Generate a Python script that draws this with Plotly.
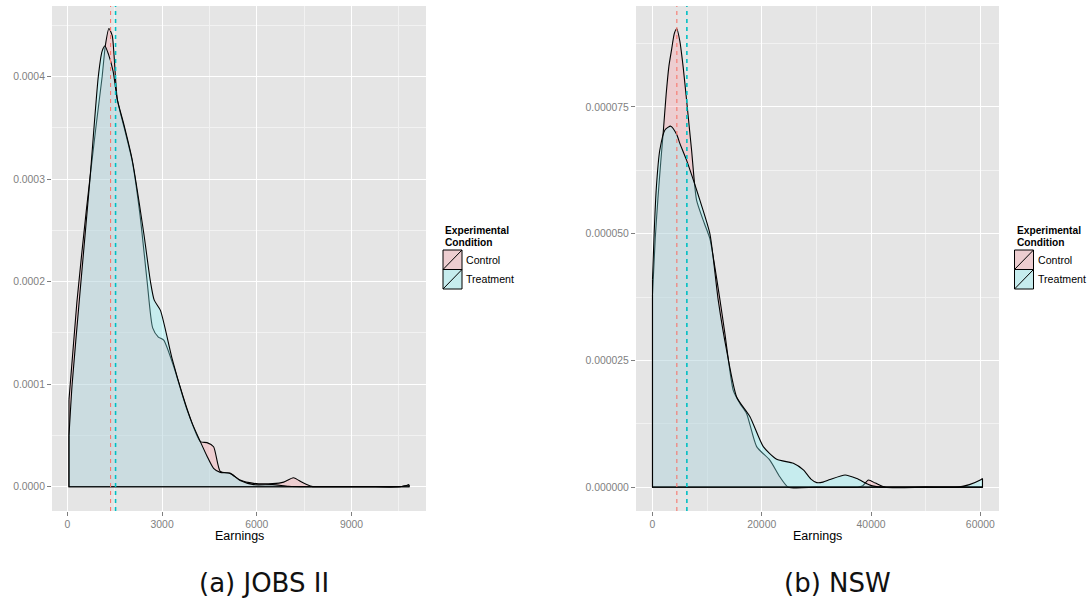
import plotly.graph_objects as go

W, H = 1088, 603

# ---- JOBS II: earnings densities (Control / Treatment) ----
ctrl_a_x = [50, 300, 600, 900, 1100, 1200, 1315, 1420, 1579, 1800, 2050, 2300, 2526,
            2700, 2880, 3050, 3370, 3790, 4210, 4420, 4630, 4840, 5157, 5470, 5900,
            6500, 6850, 7157, 7450, 7737, 8200, 9500, 10500, 10700, 10820]
ctrl_a_y = [8.5e-5, 1.8e-4, 2.7e-4, 3.5e-4, 4.0e-4, 4.3e-4, 4.47e-4, 4.4e-4, 3.78e-4,
            3.5e-4, 3.18e-4, 2.65e-4, 2.0e-4, 1.55e-4, 1.46e-4, 1.43e-4, 1.17e-4,
            7.5e-5, 4.4e-5, 4.3e-5, 3.9e-5, 1.5e-5, 1.3e-5, 6.5e-6, 3.3e-6, 3.0e-6,
            4.5e-6, 8.8e-6, 4.0e-6, 3e-7, 0, 0, 0, 1e-6, 2e-6]

trt_a_x = [50, 150, 400, 714, 978, 1100, 1188, 1300, 1450, 1579, 1800, 2052, 2420,
           2631, 2750, 2946, 3316, 3663, 3950, 4210, 4420, 4630, 4841, 5157, 5470,
           5900, 6500, 7000, 7600, 8500, 9500, 10500, 10700, 10820]
trt_a_y = [5.0e-5, 1.0e-4, 1.9e-4, 3.0e-4, 4.0e-4, 4.25e-4, 4.3e-4, 4.22e-4, 4.05e-4,
           3.78e-4, 3.52e-4, 3.19e-4, 2.47e-4, 2.0e-4, 1.82e-4, 1.72e-4, 1.25e-4,
           8.8e-5, 6.2e-5, 4.4e-5, 3.0e-5, 1.8e-5, 1.4e-5, 1.3e-5, 6.0e-6, 2.0e-6,
           2.0e-6, 5e-7, 0, 0, 0, 0, 1e-6, 2e-6]

mean_a = {"Control": 1367, "Treatment": 1525}

# ---- NSW: earnings densities (Control / Treatment) ----
ctrl_b_x = [0, 500, 1000, 1500, 2000, 2500, 3000, 3480, 4000, 4454, 5000, 5610, 6230,
            7150, 8065, 9500, 10500, 12340, 13250, 14780, 16000, 17230, 19060, 21500,
            23330, 24860, 30000, 37500, 38500, 39520, 40800, 42600, 50000, 60400]
ctrl_b_y = [3.8e-5, 4.9e-5, 5.7e-5, 6.4e-5, 7.05e-5, 7.75e-5, 8.3e-5, 8.62e-5, 8.95e-5,
            9.04e-5, 8.8e-5, 8.29e-5, 7.64e-5, 6.65e-5, 5.66e-5, 5.2e-5, 4.9e-5,
            3.7e-5, 3.03e-5, 1.91e-5, 1.65e-5, 1.45e-5, 8.0e-6, 5.3e-6, 2.0e-6, 0,
            0, 0, 3e-7, 1.4e-6, 8e-7, 0, 0, 0]

trt_b_x = [0, 300, 700, 1338, 2300, 3355, 4454, 5005, 6230, 7500, 8670, 10500, 12030,
           13560, 15400, 17840, 20280, 22730, 25780, 27610, 29000, 30060, 31200, 32500,
           35250, 37390, 39830, 42000, 50000, 56000, 58000, 60000, 60400]
trt_b_y = [4.1e-5, 5.0e-5, 5.9e-5, 6.65e-5, 7.05e-5, 7.12e-5, 6.95e-5, 6.78e-5, 6.45e-5,
           6.05e-5, 5.66e-5, 5.0e-5, 3.69e-5, 2.7e-5, 1.78e-5, 1.39e-5, 8.0e-6, 5.5e-6,
           4.7e-6, 3.4e-6, 1.6e-6, 9e-7, 1.0e-6, 1.5e-6, 2.4e-6, 1.7e-6, 4e-7, 0, 0, 0,
           5e-7, 1.4e-6, 1.7e-6]

mean_b = {"Control": 4455, "Treatment": 6290}

groups = ["Control", "Treatment"]
fills = {"Control": "rgba(255,150,160,0.30)", "Treatment": "rgba(140,250,255,0.35)"}
hues = {"Control": "#F8766D", "Treatment": "#00BFC4"}
vline_w = {"Control": 1.1, "Treatment": 1.6}

a_xticks = [0, 3000, 6000, 9000]
a_xminor = [1500, 4500, 7500, 10500]
a_yticks = [0, 1e-4, 2e-4, 3e-4, 4e-4]
a_yminor = [5e-5, 1.5e-4, 2.5e-4, 3.5e-4, 4.5e-4]
b_xticks = [0, 20000, 40000, 60000]
b_xminor = [10000, 30000, 50000]
b_yticks = [0, 2.5e-5, 5e-5, 7.5e-5]
b_yminor = [1.25e-5, 3.75e-5, 6.25e-5, 8.75e-5]

fig = go.Figure()


def add_density(xs, ys, fill, xa, ya):
    fig.add_trace(go.Scatter(
        x=xs, y=ys, mode="lines", fill="tozeroy", fillcolor=fill,
        line=dict(color="black", width=1.1, shape="spline", smoothing=0.6),
        xaxis=xa, yaxis=ya, showlegend=False, hoverinfo="skip"))
    # closing edges of the density polygon (ends and baseline)
    fig.add_trace(go.Scatter(
        x=[xs[-1], xs[-1], xs[0], xs[0]], y=[ys[-1], 0, 0, ys[0]], mode="lines",
        line=dict(color="black", width=1.1), xaxis=xa, yaxis=ya,
        showlegend=False, hoverinfo="skip"))


add_density(ctrl_a_x, ctrl_a_y, fills["Control"], "x", "y")
add_density(trt_a_x, trt_a_y, fills["Treatment"], "x", "y")
add_density(ctrl_b_x, ctrl_b_y, fills["Control"], "x2", "y2")
add_density(trt_b_x, trt_b_y, fills["Treatment"], "x2", "y2")

for xref, yref, means in [("x", "y domain", mean_a), ("x2", "y2 domain", mean_b)]:
    for g in groups:
        fig.add_shape(type="line", xref=xref, yref=yref, x0=means[g], x1=means[g],
                      y0=0, y1=1, layer="above",
                      line=dict(color=hues[g], width=vline_w[g], dash="4px,4px"))

tick_font = dict(family="Liberation Sans, Arial, sans-serif", size=10.4, color="#7F7F7F")


def axis(domain, rng, tickvals, minorvals, fmt, anchor):
    return dict(domain=domain, range=rng, tickvals=tickvals, tickformat=fmt,
                ticks="outside", ticklen=4, tickwidth=1, tickcolor="#7F7F7F",
                tickfont=tick_font, showgrid=True, gridcolor="white", gridwidth=1.1,
                zeroline=False, showline=False, automargin=False, anchor=anchor,
                minor=dict(tickvals=minorvals, showgrid=True, gridcolor="#F2F2F2",
                           gridwidth=0.55, ticks=""))


ydom = [1 - 511 / H, 1 - 6 / H]
fig.update_layout(
    width=W, height=H, margin=dict(l=0, r=0, t=0, b=0),
    paper_bgcolor="white", plot_bgcolor="#E5E5E5", showlegend=False,
    xaxis=axis([52 / W, 426 / W], [-488, 11358], a_xticks, a_xminor, "d", "y"),
    yaxis=axis(ydom, [-2.37e-5, 4.69e-4], a_yticks, a_yminor, ".4f", "x"),
    xaxis2=axis([636 / W, 999 / W], [-3020, 63420], b_xticks, b_xminor, "d", "y2"),
    yaxis2=axis(ydom, [-4.7e-6, 9.49e-5], b_yticks, b_yminor, ".6f", "x2"),
)

annots = []
label_font = dict(family="Liberation Sans, Arial, sans-serif", size=10.6, color="black")
title_font = dict(family="Liberation Sans, Arial, sans-serif", size=10.2, color="black",
                  weight="bold")

# axis titles
for cx in [(52 + 426) / 2, (636 + 999) / 2]:
    annots.append(dict(x=cx / W, y=1 - 536 / H, xref="paper", yref="paper",
                       text="Earnings", showarrow=False, xanchor="center",
                       yanchor="middle",
                       font=dict(family="Liberation Sans, Arial, sans-serif", size=12.5,
                                 color="black")))

# legends
for lx in [443, 1014.5]:
    annots.append(dict(x=lx / W, y=1 - 231 / H, xref="paper", yref="paper",
                       text="Experimental", showarrow=False, xanchor="left",
                       yanchor="middle", font=title_font))
    annots.append(dict(x=lx / W, y=1 - 242.5 / H, xref="paper", yref="paper",
                       text="Condition", showarrow=False, xanchor="left",
                       yanchor="middle", font=title_font))
    for i, g in enumerate(groups):
        y0 = 250 + i * 19.5
        y1 = y0 + 19.5
        x0, x1 = lx, lx + 19
        fig.add_shape(type="rect", xref="paper", yref="paper", x0=x0 / W, x1=x1 / W,
                      y0=1 - y1 / H, y1=1 - y0 / H, fillcolor="#E5E5E5",
                      line=dict(width=0))
        fig.add_shape(type="rect", xref="paper", yref="paper", x0=x0 / W, x1=x1 / W,
                      y0=1 - y1 / H, y1=1 - y0 / H, fillcolor=fills[g],
                      line=dict(color="black", width=1))
        fig.add_shape(type="line", xref="paper", yref="paper", x0=x0 / W, x1=x1 / W,
                      y0=1 - y1 / H, y1=1 - y0 / H, line=dict(color="black", width=1))
        annots.append(dict(x=(x1 + 2) / W, y=1 - (y0 + y1) / 2 / H, xref="paper",
                           yref="paper", text=g, showarrow=False, xanchor="left",
                           yanchor="middle", font=label_font))

# sub-figure captions
cap_font = dict(family="DejaVu Sans, sans-serif", size=26, color="#111111")
for cx, txt in [(264, "(a) JOBS II"), (837, "(b) NSW")]:
    annots.append(dict(x=cx / W, y=1 - 583 / H, xref="paper", yref="paper", text=txt,
                       showarrow=False, xanchor="center", yanchor="middle",
                       font=cap_font))

fig.update_layout(annotations=annots)
fig.write_html("out.html")
